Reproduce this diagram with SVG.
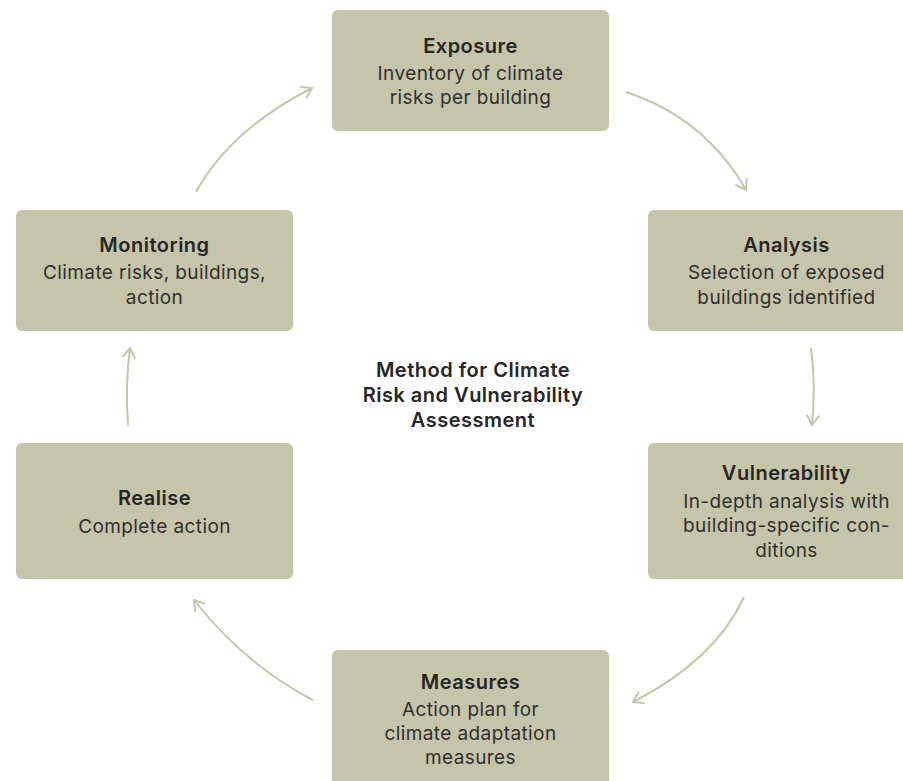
<svg xmlns="http://www.w3.org/2000/svg" width="903" height="781" viewBox="0 0 903 781">
<defs>
<style>
.box{fill:#c5c5a9;}
.t{font-family:Inter,"Liberation Sans",sans-serif;font-size:20px;font-weight:600;letter-spacing:0.5px;fill:#262624;text-anchor:middle;}
.b{font-family:Inter,"Liberation Sans",sans-serif;font-size:19px;font-weight:400;letter-spacing:0.4px;fill:#303030;text-anchor:middle;}
.c{fill:none;stroke:#c5c6a8;stroke-width:2;}
</style>
<marker id="ah" markerUnits="userSpaceOnUse" markerWidth="16" markerHeight="16" refX="12" refY="8" orient="auto">
<path d="M2,1.5 L12,8 L2,14.5" fill="none" stroke="#c5c6a8" stroke-width="2"/>
</marker>
</defs>
<rect width="903" height="781" fill="#ffffff"/>
<g id="connectors">
<path class="c" d="M196,192 Q230,130 312,88" marker-end="url(#ah)"/>
<path class="c" d="M626,92 Q705,118 746,190" marker-end="url(#ah)"/>
<path class="c" d="M811,348 Q816,385 812,425" marker-end="url(#ah)"/>
<path class="c" d="M744,597 Q715,660 633,702" marker-end="url(#ah)"/>
<path class="c" d="M313,700 Q245,665 194,600" marker-end="url(#ah)"/>
<path class="c" d="M128,425 Q125,385 130,348" marker-end="url(#ah)"/>
</g>
<g id="exposure">
<rect class="box" x="332" y="10" width="277" height="121" rx="6"/>
<text class="t" x="470.5" y="53">Exposure</text>
<text class="b" x="470.5" y="80">Inventory of climate</text>
<text class="b" x="470.5" y="104">risks per building</text>
</g>
<g id="analysis">
<rect class="box" x="648" y="210" width="277" height="121" rx="6"/>
<text class="t" x="786.5" y="252">Analysis</text>
<text class="b" x="786.5" y="279">Selection of exposed</text>
<text class="b" x="786.5" y="304">buildings identified</text>
</g>
<g id="vulnerability">
<rect class="box" x="648" y="443" width="277" height="136" rx="6"/>
<text class="t" x="786.5" y="480">Vulnerability</text>
<text class="b" x="786.5" y="508">In-depth analysis with</text>
<text class="b" x="786.5" y="532">building-specific con-</text>
<text class="b" x="786.5" y="557">ditions</text>
</g>
<g id="measures">
<rect class="box" x="332" y="650" width="277" height="150" rx="6"/>
<text class="t" x="470.5" y="689">Measures</text>
<text class="b" x="470.5" y="716">Action plan for</text>
<text class="b" x="470.5" y="740">climate adaptation</text>
<text class="b" x="470.5" y="764">measures</text>
</g>
<g id="realise">
<rect class="box" x="16" y="443" width="277" height="136" rx="6"/>
<text class="t" x="154.5" y="505">Realise</text>
<text class="b" x="154.5" y="533">Complete action</text>
</g>
<g id="monitoring">
<rect class="box" x="16" y="210" width="277" height="121" rx="6"/>
<text class="t" x="154.5" y="252">Monitoring</text>
<text class="b" x="154.5" y="279">Climate risks, buildings,</text>
<text class="b" x="154.5" y="304">action</text>
</g>
<g id="title">
<text class="t" x="473" y="377">Method for Climate</text>
<text class="t" x="473" y="402">Risk and Vulnerability</text>
<text class="t" x="473" y="427">Assessment</text>
</g>
</svg>
